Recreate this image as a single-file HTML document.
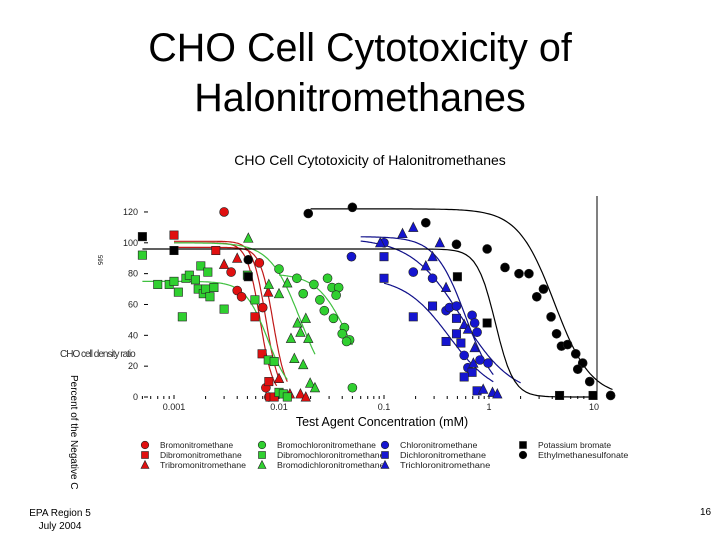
<!DOCTYPE html>
<html><head><meta charset="utf-8"><style>
body{margin:0;background:#fff;font-family:"Liberation Sans",sans-serif}
#w{position:relative;width:720px;height:540px;overflow:hidden;background:#fff}
.t{position:absolute;white-space:nowrap}
</style></head><body>
<div id="w">
<div class="t" style="left:0;width:720px;top:23px;text-align:center;font-size:39.5px;line-height:50px;color:#000">CHO Cell Cytotoxicity of<br>Halonitromethanes</div>
<div class="t" style="left:20px;width:80px;top:507px;text-align:center;font-size:10px;line-height:13px">EPA Region 5<br>July 2004</div>
<div class="t" style="left:700px;top:507px;font-size:10px">16</div>
<svg id="c" width="720" height="540" style="position:absolute;left:0;top:0"></svg>
</div>
<script>
const seriesNames=["Bromonitromethane","Dibromonitromethane","Tribromonitromethane","Bromochloronitromethane","Dibromochloronitromethane","Bromodichloronitromethane","Chloronitromethane","Dichloronitromethane","Trichloronitromethane","Potassium bromate","Ethylmethanesulfonate"];
const seriesColors=["#e01010","#e01010","#e01010","#30d030","#30d030","#30d030","#1515d0","#1515d0","#1515d0","#000","#000"];
const seriesShapes=["circle","square","triangle","circle","square","triangle","circle","square","triangle","square","circle"];
const conc=[
[0.003,0.0035,0.004,0.0044,0.0065,0.007,0.0075,0.008],
[0.001,0.0025,0.0059,0.0069,0.008,0.0082,0.009],
[0.003,0.004,0.0079,0.01,0.0127,0.016,0.018],
[0.01,0.0148,0.017,0.0215,0.0245,0.027,0.029,0.032,0.037,0.035,0.033,0.042,0.04,0.047,0.044,0.05],
[0.0005,0.0007,0.0009,0.001,0.0011,0.0012,0.0013,0.0014,0.0016,0.0017,0.0018,0.0019,0.002,0.0021,0.0022,0.0024,0.003,0.005,0.0059,0.0079,0.009,0.01,0.011,0.012],
[0.0051,0.012,0.008,0.01,0.018,0.015,0.016,0.013,0.019,0.014,0.017,0.0198,0.022],
[0.049,0.1,0.19,0.29,0.39,0.42,0.49,0.69,0.73,0.77,0.58,0.63,0.82,0.98],
[0.1,0.1,0.19,0.29,0.49,0.49,0.39,0.54,0.69,0.58,0.77],
[0.092,0.15,0.19,0.34,0.29,0.25,0.39,0.58,0.63,0.73,0.71,0.88,1.08,1.2],
[0.0005,0.001,0.0051,0.5,0.96,4.7,9.8],
[0.019,0.05,0.0051,0.25,0.49,0.96,1.42,1.93,2.4,3.3,2.85,3.9,4.4,4.9,5.6,6.7,7.8,7,9.1,14.4]];
const pct=[
[120,81,69,65,87,58,6,0],
[105,95,52,28,10,0,0],
[86,90,68,12,2,2,0],
[83,77,67,73,63,56,77,71,71,66,51,45,41,37,36,6],
[92,73,73,75,68,52,77,79,76,70,85,67,70,81,65,71,57,79,63,24,23,3,2,0],
[103,74,73,67,51,48,42,38,38,25,21,9,6],
[91,100,81,77,56,58,59,53,48,42,27,19,24,22],
[77,91,52,59,51,41,36,35,16,13,4],
[100,106,110,100,91,85,71,47,44,32,22,5,3,2],
[104,95,78,78,48,1,1],
[119,123,89,113,99,96,84,80,80,70,65,52,41,33,34,28,22,18,10,1]];
const fitTop=[101,100,97,80,75,100,103,78,104,96,122];
const fitEC50=[0.0075,0.0066,0.0088,0.045,0.0078,0.016,0.55,0.42,0.6,1.15,4.2];
const fitHill=[7,7,7,3,4,3,1.8,2,3,5,2.5];
const fitFrom=[0.001,0.001,0.001,0.01,0.0005,0.001,0.06,0.1,0.06,0.0005,0.02];
const fitTo=[0.01,0.0095,0.012,0.05,0.012,0.022,2,1.1,1.1,10,15];
const yTicks=[0,20,40,60,80,100,120];
const xTicks=[0.001,0.01,0.1,1,10];
const xTickLabels=["0.001","0.01","0.1","1","10"];

const X=v=>279+105*(Math.log10(v)+2);
const Y=v=>397-v*1.542;
const svg=document.getElementById('c');
const NS="http://www.w3.org/2000/svg";
function mk(tag,at,parent){const e=document.createElementNS(NS,tag);for(const k in at)e.setAttribute(k,at[k]);(parent||svg).appendChild(e);return e;}
function txt(s,at){const e=mk('text',at);e.textContent=s;return e;}

let e;
e=txt("CHO Cell Cytotoxicity of Halonitromethanes",{x:370,y:165,"font-size":14,"text-anchor":"middle"});


e=mk('line',{x1:597,y1:196,x2:597,y2:397,stroke:"#000","stroke-width":1});


yTicks.forEach(v=>{
  const t=txt(String(v),{x:138,y:Y(v)+3,"font-size":9,"text-anchor":"end",fill:"#222"});
  
  
  const l=mk('line',{x1:144,x2:148,y1:Y(v),y2:Y(v),stroke:"#000"});
  
  
});
xTicks.forEach((v,i)=>{
  const t=txt(xTickLabels[i],{x:X(v),y:410,"font-size":9,"text-anchor":"middle",fill:"#222"});
  
  
});
for(let d=-4;d<=1;d++)for(let m=1;m<10;m++){
  const v=m*Math.pow(10,d);const px=X(v);if(px<140||px>600)continue;
  const l=mk('line',{x1:px,x2:px,y1:m==1?395:396,y2:399,stroke:"#000"});
  
  
}
e=txt("Test Agent Concentration (mM)",{x:382,y:426,"font-size":12.5,"text-anchor":"middle"});


e=txt("Percent of the Negative C",{x:0,y:0,"font-size":10,transform:"translate(71,375) rotate(90)"});


e=txt("CHO cell density ratio",{x:60,y:357,"font-size":10,fill:"#333","letter-spacing":"-1"});


e=txt("595",{x:0,y:0,"font-size":6,transform:"translate(98,255) rotate(90)"});



for(let s=0;s<11;s++){
  let d="";const a=Math.log10(fitFrom[s]),b=Math.log10(fitTo[s]);
  for(let i=0;i<=120;i++){const lv=a+(b-a)*i/120;const c=Math.pow(10,lv);
    const y=fitTop[s]/(1+Math.pow(c/fitEC50[s],fitHill[s]));
    d+=(i?"L":"M")+X(c).toFixed(1)+" "+Y(y).toFixed(1);}
  const p=mk('path',{d:d,fill:"none",stroke:s<3?"#c01818":(s<6?"#40c040":(s<9?"#10108a":"#000")),"stroke-width":1.2});
  
  
}
function marker(shape,x,y,col,r,parent){
  if(shape=="circle")return mk('circle',{cx:x,cy:y,r:r+0.3,fill:col,stroke:"#222","stroke-width":0.6},parent);
  if(shape=="square")return mk('rect',{x:x-r,y:y-r,width:2*r,height:2*r,fill:col,stroke:"#222","stroke-width":0.6},parent);
  return mk('polygon',{points:`${x},${y-r-1} ${x-r-0.5},${y+r} ${x+r+0.5},${y+r}`,fill:col,stroke:"#222","stroke-width":0.6},parent);
}
for(let s=0;s<11;s++){
  for(let i=0;i<conc[s].length;i++){
    const m=marker(seriesShapes[s],X(conc[s][i]),Y(pct[s][i]),seriesColors[s],4.2);
    
    
  }
}
const legX=[145,262,385,523];
const legY=[445,455,465];
for(let s=0;s<11;s++){
  const col=Math.floor(s/3),row=s%3;
  const g=mk('g',{});
  
  
  marker(seriesShapes[s],legX[col],legY[row],seriesColors[s],3.5,g);
  const t=mk('text',{x:legX[col]+15,y:legY[row]+3,"font-size":8,fill:"#222","textLength":seriesNames[s].length*4.3,"lengthAdjust":"spacingAndGlyphs"},g);
  t.textContent=seriesNames[s];
}
</script>
</body></html>
